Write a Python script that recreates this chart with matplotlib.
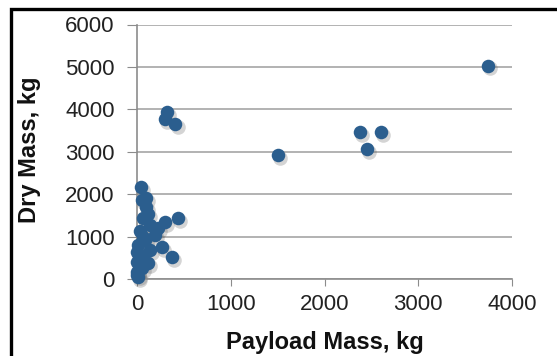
import numpy as np
import matplotlib.pyplot as plt
from matplotlib.patches import Rectangle
from matplotlib.transforms import ScaledTranslation

plt.rcParams['font.family'] = ['Liberation Sans', 'DejaVu Sans']

# payload mass vs dry mass, kg
payload = [3745, 2380, 2600, 2450, 1505, 315, 300, 410,
           40, 93, 50, 115, 300, 440, 225, 190, 265, 370, 140, 15,
           0, 0, 50, 120, 65, 85, 30, 140, 65, 0, 5, 10, 100, 60, 20]
dry = [5030, 3470, 3470, 3070, 2925, 3930, 3775, 3650,
       2160, 1900, 1860, 1530, 1350, 1430, 1200, 1040, 760, 525, 690, 800,
       410, 170, 260, 370, 490, 920, 1120, 1275, 1430, 640, 95, 40, 1700, 1000, 560]

x_ticks = [0, 1000, 2000, 3000, 4000]
y_ticks = [0, 1000, 2000, 3000, 4000, 5000, 6000]

fig = plt.figure(figsize=(5.57, 3.56), dpi=100)
ax = fig.add_axes([137 / 557, 1 - 279 / 356, 375 / 557, 254.5 / 356])

# soft shadow under the dots
shadow = ax.transData + ScaledTranslation(1.5 / 72, -2 / 72, fig.dpi_scale_trans)
ax.scatter(payload, dry, s=110, color='#555555', alpha=0.25, linewidths=0,
           transform=shadow, zorder=2, clip_on=False)
ax.scatter(payload, dry, s=95, color='#2b5e8e', linewidths=0, zorder=3, clip_on=False)

ax.set_xlim(0, 4000)
ax.set_ylim(0, 6000)
ax.set_xticks(x_ticks)
ax.set_yticks(y_ticks)
ax.yaxis.grid(True, color='#a6a6a6', linewidth=1.2)
ax.set_axisbelow(True)
for s in ['top', 'right']:
    ax.spines[s].set_visible(False)
for s in ['left', 'bottom']:
    ax.spines[s].set_color('#8c8c8c')
    ax.spines[s].set_linewidth(1.2)
ax.tick_params(axis='x', direction='out', length=5, color='#8c8c8c', labelsize=16,
               labelcolor='#222222', pad=6)
ax.tick_params(axis='y', direction='out', length=7, color='#8c8c8c', labelsize=16,
               labelcolor='#222222', pad=9)

fig.text(325 / 557, 1 - 342 / 356, 'Payload Mass, kg', fontsize=17, fontweight='bold',
         ha='center', va='center', color='#111111')
fig.text(30 / 557, 1 - 150 / 356, 'Dry Mass, kg', fontsize=17, fontweight='bold',
         rotation=90, ha='center', va='center', color='#111111')

# outer black frame (cut off at right and bottom)
fig.add_artist(Rectangle((11 / 557, -0.1), 1.2, 1.1 - 9 / 356, transform=fig.transFigure,
                         fill=False, edgecolor='black', linewidth=2.4))

fig.savefig('out.png', dpi=100)
